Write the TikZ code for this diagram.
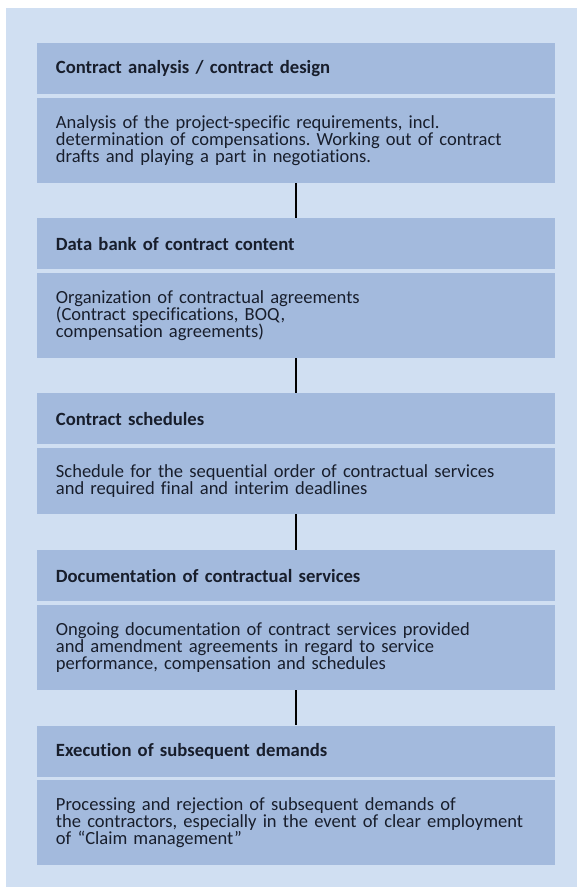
\documentclass[tikz,border=0pt]{standalone}
\usepackage{fontspec}
\setmainfont{Carlito}[Ligatures={TeX,NoCommon}]
\frenchspacing
\usetikzlibrary{positioning}
\definecolor{paleblue}{RGB}{208,223,242}
\definecolor{boxblue}{RGB}{163,186,221}
\definecolor{inkblue}{RGB}{24,30,44}
\begin{document}
\begin{tikzpicture}[x=.75pt,y=-.75pt,node distance=2.25pt,
  head/.style={fill=boxblue,text=inkblue,align=left,text width=360.5pt,
    inner xsep=14pt,inner ysep=0pt,minimum height=38.25pt,
    font=\fontsize{14}{12.75}\selectfont\bfseries},
  body/.style={head,minimum height=63.75pt,font=\fontsize{13.9}{12.75}\selectfont},
  shortbody/.style={body,minimum height=49.5pt},
  link/.style={draw=black,line width=1.5pt}]
  % page and panel
  \useasboundingbox (0,0) rectangle (577,887);
  \fill[paleblue] (6,8) rectangle (577,887);
  % the five steps, each a heading over its description
  \node[head,anchor=north west] (t1) at (37,43) {Contract analysis / contract design};
  \node[body,below=of t1] (d1) {Analysis of the project-specific requirements, incl.\\
    determination of compensations. Working out of contract\\
    drafts and playing a part in negotiations.};
  \node[head,below=26.25pt of d1] (t2) {Data bank of contract content};
  \node[body,below=of t2] (d2) {Organization of contractual agreements\\
    (Contract specifications, BOQ,\\
    compensation agreements)};
  \node[head,below=26.25pt of d2] (t3) {Contract schedules};
  \node[shortbody,below=of t3] (d3) {Schedule for the sequential order of contractual services\\
    and required final and interim deadlines};
  \node[head,below=27pt of d3] (t4) {Documentation of contractual services};
  \node[body,below=of t4] (d4) {Ongoing documentation of contract services provided\\
    and amendment agreements in regard to service\\
    performance, compensation and schedules};
  \node[head,below=26.25pt of d4] (t5) {Execution of subsequent demands};
  \node[body,below=of t5] (d5) {Processing and rejection of subsequent demands of\\
    the contractors, especially in the event of clear employment\\
    of ``Claim management''};
  % connectors
  \foreach \a/\b in {d1/t2,d2/t3,d3/t4,d4/t5}
    \draw[link] (\a.south) -- (\b.north);
\end{tikzpicture}
\end{document}
